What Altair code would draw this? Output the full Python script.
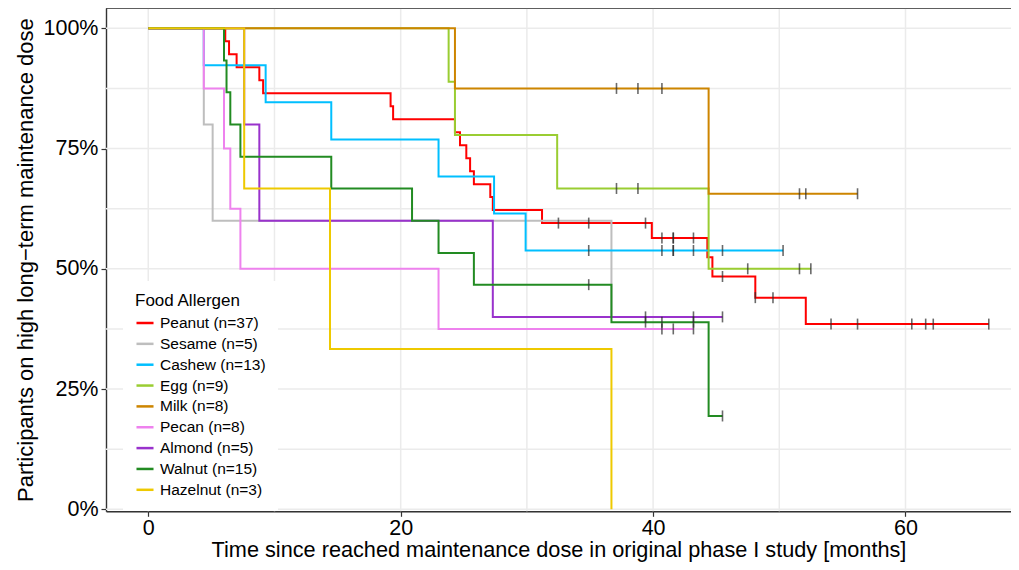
import altair as alt
import pandas as pd

groups = ["Peanut (n=37)", "Sesame (n=5)", "Cashew (n=13)", "Egg (n=9)", "Milk (n=8)",
          "Pecan (n=8)", "Almond (n=5)", "Walnut (n=15)", "Hazelnut (n=3)"]
colors = ["#FF0000", "#BEBEBE", "#00BFFF", "#9ACD32", "#CD8500",
          "#EE82EE", "#9932CC", "#228B22", "#EEC900"]

# step times (months) and survival (%) per allergen, plus censoring times
peanut_t = [0, 6.1, 6.4, 7.0, 8.8, 9.1, 19.2, 19.4, 24.3, 24.7, 25.2, 25.5, 25.8, 27.1, 27.3,
            31.2, 39.9, 44.3, 44.7, 48.1, 52.1, 66.6]
peanut_s = [100, 97.3, 94.6, 91.9, 89.2, 86.5, 83.8, 81.1, 78.4, 75.7, 73.0, 70.3, 67.6, 64.9, 62.2,
            59.5, 56.4, 52.4, 48.4, 44.0, 38.5, 38.5]
peanut_c = [32.5, 34.9, 39.4, 40.7, 41.6, 41.6, 43.2, 45.5, 48.1, 49.5, 54.1, 56.2, 60.5, 61.6, 62.2, 66.6]

sesame_t = [0, 4.4, 5.1, 36.7]
sesame_s = [100, 80, 60, 40]
sesame_c = []

cashew_t = [0, 4.4, 9.3, 14.5, 23.0, 27.4, 29.9, 50.3]
cashew_s = [100, 92.3, 84.6, 76.9, 69.2, 61.5, 53.8, 53.8]
cashew_c = [34.9, 40.7, 41.6, 41.6, 43.2, 45.5, 50.3]

egg_t = [0, 23.8, 24.3, 32.4, 44.4, 52.5]
egg_s = [100, 88.9, 77.8, 66.7, 50.0, 50.0]
egg_c = [37.1, 38.8, 47.5, 51.6, 52.5]

milk_t = [0, 24.3, 44.4, 56.2]
milk_s = [100, 87.5, 65.6, 65.6]
milk_c = [37.1, 38.8, 40.7, 51.6, 52.1, 56.2]

pecan_t = [0, 4.4, 6.0, 6.5, 7.3, 23.0, 43.2]
pecan_s = [100, 87.5, 75.0, 62.5, 50.0, 37.5, 37.5]
pecan_c = [40.7, 41.6, 43.2]

almond_t = [0, 7.6, 8.8, 27.3, 45.5]
almond_s = [100, 80, 60, 40, 40]
almond_c = [39.4, 43.2, 45.5]

walnut_t = [0, 6.0, 6.2, 6.5, 7.3, 14.5, 20.9, 23.0, 25.8, 36.7, 44.4, 45.5]
walnut_s = [100, 93.3, 86.7, 80.0, 73.3, 66.7, 60.0, 53.3, 46.7, 38.9, 19.4, 19.4]
walnut_c = [34.9, 39.4, 40.7, 43.2, 45.5]

hazelnut_t = [0, 7.6, 14.4, 36.7]
hazelnut_s = [100, 66.7, 33.3, 0]
hazelnut_c = []

series = [
    (peanut_t, peanut_s, peanut_c), (sesame_t, sesame_s, sesame_c),
    (cashew_t, cashew_s, cashew_c), (egg_t, egg_s, egg_c),
    (milk_t, milk_s, milk_c), (pecan_t, pecan_s, pecan_c),
    (almond_t, almond_s, almond_c), (walnut_t, walnut_s, walnut_c),
    (hazelnut_t, hazelnut_s, hazelnut_c),
]

x_major = [0, 20, 40, 60]
x_minor = [10, 30, 50]
y_major = [0, 25, 50, 75, 100]
y_minor = [12.5, 37.5, 62.5, 87.5]

line_rows, cens_rows = [], []
for g, (ts, ss, cs) in zip(groups, series):
    for t, s in zip(ts, ss):
        line_rows.append({"group": g, "t": t, "s": s})
    for c in cs:
        val = ss[0]
        for t, s in zip(ts, ss):
            if t <= c:
                val = s
        cens_rows.append({"group": g, "t": c, "s": val})

lines_df = pd.DataFrame(line_rows)
cens_df = pd.DataFrame(cens_rows)

XDOM = [-3.35, 68.36]
YDOM = [-0.42, 104.22]
xs = alt.Scale(domain=XDOM, nice=False, zero=False)
ys = alt.Scale(domain=YDOM, nice=False, zero=False)
FONT = "Liberation Sans"

vgrid = alt.Chart(pd.DataFrame({"t": x_major + x_minor})).mark_rule(
    color="#EBEBEB", strokeWidth=1.5).encode(x=alt.X("t:Q", scale=xs))
hgrid = alt.Chart(pd.DataFrame({"s": y_major + y_minor})).mark_rule(
    color="#EBEBEB", strokeWidth=1.5).encode(y=alt.Y("s:Q", scale=ys))

lines = alt.Chart(lines_df).mark_line(interpolate="step-after", strokeWidth=2).encode(
    x=alt.X("t:Q", scale=xs,
            title="Time since reached maintenance dose in original phase I study [months]",
            axis=alt.Axis(values=x_major, grid=False, labelFontSize=21.5, titleFontSize=21.7,
                          labelFont=FONT, titleFont=FONT, labelColor="#000", titleColor="#000",
                          titleFontWeight="normal", tickColor="#333", domainColor="#333",
                          tickSize=5, tickWidth=1.2, domainWidth=1.4, labelPadding=1,
                          titlePadding=1, labelFlush=False)),
    y=alt.Y("s:Q", scale=ys,
            title="Participants on high long\u2212term maintenance dose",
            axis=alt.Axis(values=y_major, grid=False, labelExpr="datum.value + '%'",
                          labelFontSize=21.5, titleFontSize=22,
                          labelFont=FONT, titleFont=FONT, labelColor="#000", titleColor="#000",
                          titleFontWeight="normal", tickColor="#333", domainColor="#333",
                          tickSize=5, tickWidth=1.2, domainWidth=1.4, labelPadding=3,
                          titlePadding=6, labelFlush=False)),
    color=alt.Color("group:N", scale=alt.Scale(domain=groups, range=colors),
                    legend=alt.Legend(title="Food Allergen", orient="none", legendX=17, legendY=273,
                                      fillColor="white", padding=12, titleFontSize=17,
                                      labelFontSize=15.5, titleFont=FONT, labelFont=FONT,
                                      titleFontWeight="normal", titleColor="#000", labelColor="#000",
                                      symbolType="stroke", symbolStrokeWidth=2.5, symbolSize=290,
                                      rowPadding=1.85, labelOffset=5, titlePadding=3)),
)

ticks = alt.Chart(cens_df).mark_tick(orient="vertical", size=11, thickness=1.6, color="#2b2b2b").encode(
    x=alt.X("t:Q", scale=xs), y=alt.Y("s:Q", scale=ys))

top_border = alt.Chart(pd.DataFrame({"t": [XDOM[0]], "t2": [XDOM[1]]})).mark_rule(
    color="#333", strokeWidth=1.4).encode(
    x=alt.X("t:Q", scale=xs), x2="t2:Q", y=alt.value(0))

chart = alt.layer(vgrid, hgrid, lines, ticks, top_border).properties(
    width=905, height=503.3,
    autosize=alt.AutoSizeParams(type="none"),
    padding={"left": 98, "top": 0, "right": 0, "bottom": 50.7},
).configure_view(stroke=None).configure(background="white")

chart.save("out.html", embed_options={"renderer": "svg", "actions": False})
